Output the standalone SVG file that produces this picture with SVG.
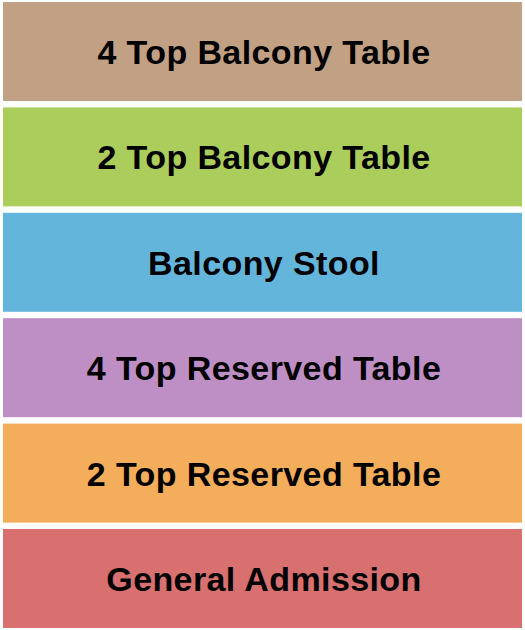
<svg xmlns="http://www.w3.org/2000/svg" width="525" height="630" viewBox="0 0 525 630">
<style>
rect{stroke:none}
text{font-family:"Liberation Sans",Arial,sans-serif;font-weight:bold;font-size:34px;letter-spacing:0.4px;fill:#000;text-anchor:middle}
</style>
<rect width="525" height="630" fill="#fff"/>
<g id="s1"><rect x="3" y="2" width="519" height="99" fill="#C2A084"/><text x="264" y="63.5">4 Top Balcony Table</text></g>
<g id="s2"><rect x="3" y="107.4" width="519" height="99" fill="#AACD5C"/><text x="264" y="169">2 Top Balcony Table</text></g>
<g id="s3"><rect x="3" y="212.8" width="519" height="99" fill="#64B5DC"/><text x="264" y="275">Balcony Stool</text></g>
<g id="s4"><rect x="3" y="318.2" width="519" height="99" fill="#BE8FC4"/><text x="264" y="380.3">4 Top Reserved Table</text></g>
<g id="s5"><rect x="3" y="423.6" width="519" height="99" fill="#F4AE5B"/><text x="264" y="485.7">2 Top Reserved Table</text></g>
<g id="s6"><rect x="3" y="529" width="519" height="99" fill="#D87070"/><text x="264" y="591">General Admission</text></g>
</svg>
